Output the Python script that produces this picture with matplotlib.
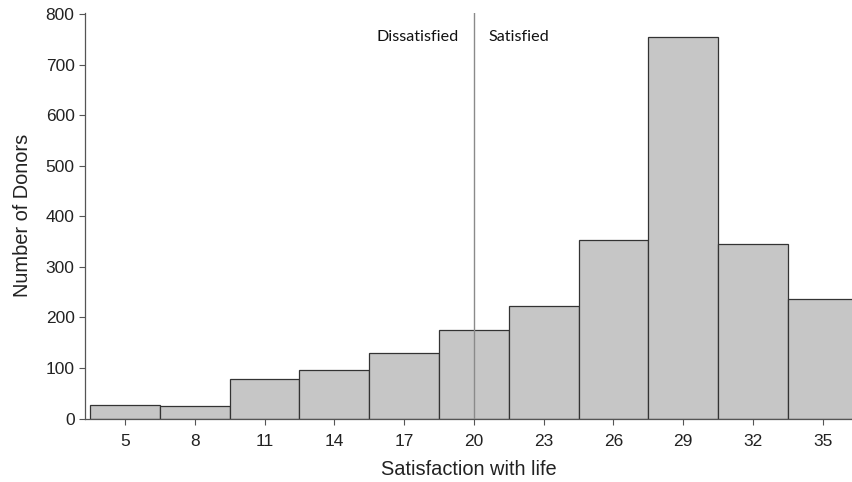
import matplotlib
matplotlib.use('Agg')
import matplotlib.pyplot as plt

# Satisfaction with life score (bin centres) and number of donors per bin
scores = [5, 8, 11, 14, 17, 20, 23, 26, 29, 32, 35]
donors = [26, 24, 79, 95, 129, 176, 222, 353, 755, 345, 236]
cutoff = 20

plt.rcParams['font.family'] = ['Liberation Sans', 'DejaVu Sans']

fig = plt.figure(figsize=(8.53, 4.82), dpi=100)
ax = fig.add_axes([0.0996, 0.1317, 0.9004, 0.8423])

ax.bar(scores, donors, width=3, color='#c6c6c6', edgecolor='#333333', linewidth=0.9, zorder=2)
ax.axvline(cutoff, color='#8a8a8a', linewidth=1.0, zorder=3)

ax.text(19.35, 755, 'Dissatisfied', ha='right', va='center', fontsize=11.6, family='Lato', color='#111111')
ax.text(20.65, 755, 'Satisfied', ha='left', va='center', fontsize=11.6, family='Lato', color='#111111')

ax.set_xlim(3.28, 36.3)
ax.set_ylim(0, 803)
ax.set_xticks(scores)
ax.set_yticks(range(0, 801, 100))
ax.tick_params(axis='both', direction='out', length=4, width=0.8, color='#555555',
               labelsize=12.5, labelcolor='#222222')
ax.tick_params(axis='x', pad=7)

for side in ['top', 'right']:
    ax.spines[side].set_visible(False)
for side in ['left', 'bottom']:
    ax.spines[side].set_color('#555555')
    ax.spines[side].set_linewidth(0.9)

ax.set_xlabel('Satisfaction with life', fontsize=14.4, color='#222222', labelpad=8)
ax.set_ylabel('Number of Donors', fontsize=14.4, color='#222222', labelpad=10)

fig.savefig('out.png', dpi=100)
